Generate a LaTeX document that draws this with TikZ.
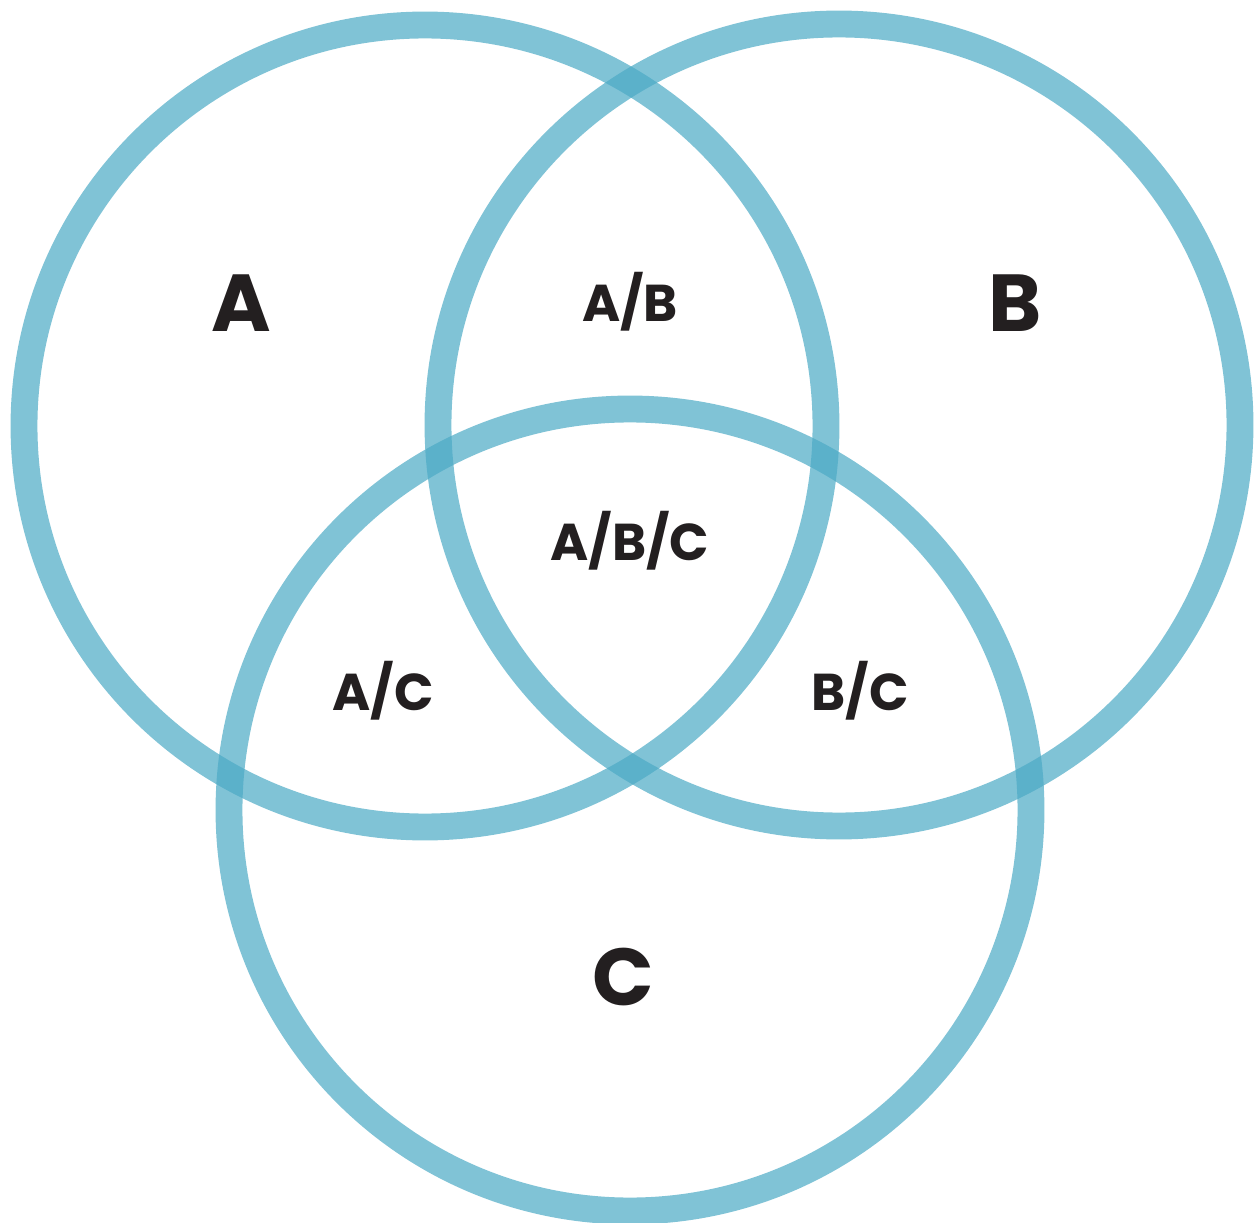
\documentclass[tikz,border=0pt]{standalone}
\usepackage{fontspec}
\setmainfont{Poppins}
\usetikzlibrary{positioning}
\definecolor{vennblue}{RGB}{76,170,197}
\definecolor{labelblack}{HTML}{231F20}
\tikzset{
    every node/.style={font=\bfseries,text=labelblack},
    ring/.style={draw=vennblue,draw opacity=0.71,line width=15.3pt},
    setlabel/.style={font=\fontsize{46}{46}\selectfont\bfseries,inner sep=0pt},
    zonelabel/.style={font=\fontsize{29.5}{29.5}\selectfont\bfseries,inner sep=0pt}
}

\begin{document}
\begin{tikzpicture}[x=0.02cm,y=-0.02cm]
    \useasboundingbox (0,0) rectangle (1255,1223);
    \coordinate (ca) at (425,426);
    \coordinate (cb) at (839,425);
    \coordinate (cc) at (630,810);
    \draw[ring] (ca) circle[radius=401];
    \draw[ring] (cb) circle[radius=401];
    \draw[ring] (cc) circle[radius=401];
    \node[setlabel] (setA) at (241,303) {A};
    \node[setlabel] (setB) at (1015,303) {B};
    \node[setlabel] (setC) at (623,977) {C};
    \node[zonelabel] (ab) at (630,302) {A/B};
    \node[zonelabel] (abc) at (630,541) {A/B/C};
    \node[zonelabel] (ac) at (383,691) {A/C};
    \node[zonelabel] (bc) at (860,691) {B/C};
\end{tikzpicture}
\end{document}
